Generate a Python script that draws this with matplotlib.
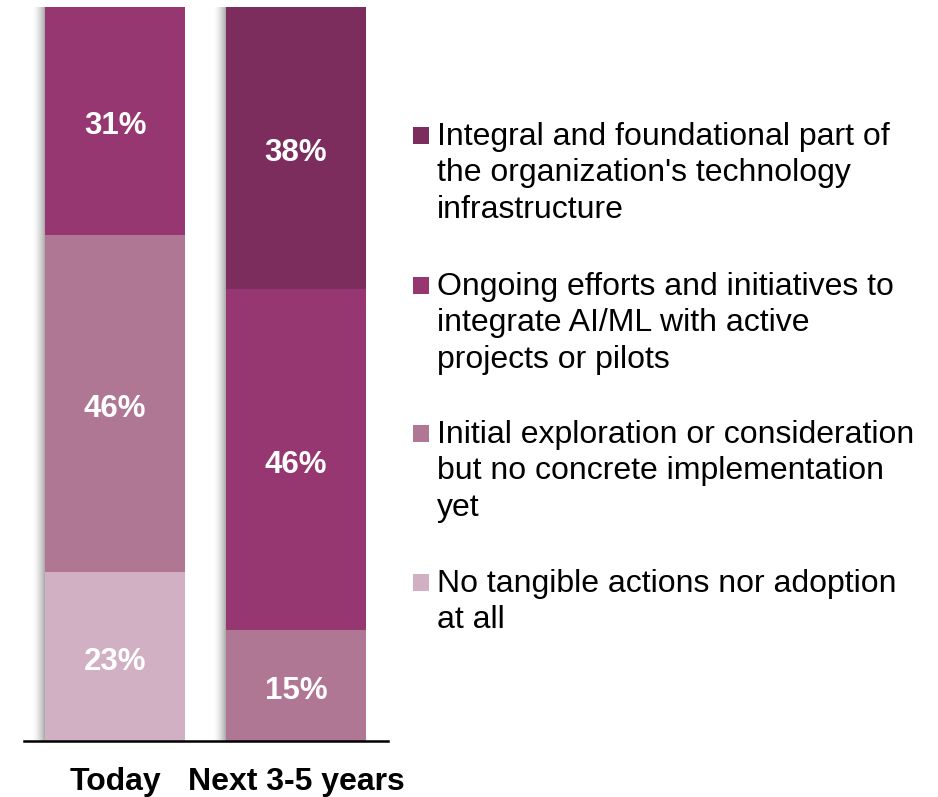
import numpy as np
import matplotlib.pyplot as plt
from matplotlib.patches import Rectangle

plt.rcParams['font.family'] = ['Liberation Sans', 'DejaVu Sans']

# ---- data ----
periods = ["Today", "Next 3-5 years"]
categories = [
    "No tangible actions nor adoption\nat all",
    "Initial exploration or consideration\nbut no concrete implementation\nyet",
    "Ongoing efforts and initiatives to\nintegrate AI/ML with active\nprojects or pilots",
    "Integral and foundational part of\nthe organization's technology\ninfrastructure",
]
# share per category (bottom -> top), one list per period
today = [23, 46, 31, 0]
next_years = [0, 15, 46, 38]
colors = ["#D1B0C3", "#B07795", "#963771", "#7C2D5E"]

values = np.array([today, next_years], dtype=float)
shares = values / values.sum(axis=1, keepdims=True) * 100  # 100% stacked

W, H = 938, 797
fig = plt.figure(figsize=(W / 100, H / 100), dpi=100)
ax = fig.add_axes([24 / W, 56 / H, 364 / W, 734 / H])

x = np.arange(len(periods))
width = 0.773

# soft drop shadow along the left edge of each column
for xi in x:
    left = xi - width / 2
    step = 0.0055
    for k in range(12):
        ax.add_patch(Rectangle((left - (k + 1) * step, 0), step, 100,
                               color="#777777", alpha=0.6 * (1 - k / 12) ** 1.6,
                               lw=0, zorder=1))

bottom = np.zeros(len(periods))
for ci in range(len(categories)):
    h = shares[:, ci]
    ax.bar(x, h, width, bottom=bottom, color=colors[ci], lw=0, zorder=2)
    for xi in x:
        if values[xi, ci] > 0:
            ax.annotate(f"{values[xi, ci]:.0f}%", (xi, bottom[xi] + h[xi] / 2),
                        xytext=(0, -4), textcoords="offset points",
                        ha="center", va="center", color="white",
                        fontsize=22.5, fontweight="bold", zorder=3)
    bottom += h

ax.set_xlim(-0.503, 1.508)
ax.set_ylim(0, 100)
for s in ["top", "right", "left"]:
    ax.spines[s].set_visible(False)
ax.spines["bottom"].set_linewidth(1.8)
ax.spines["bottom"].set_zorder(4)
ax.set_yticks([])
ax.set_xticks(x)
ax.set_xticklabels(periods, fontsize=23, fontweight="bold")
ax.tick_params(axis="x", length=0, pad=19)

# legend, top category first, marker aligned to first text line
first_baselines = [145, 295, 443, 592]   # px from top
line_gap = 36.5
for ci, base in zip(range(len(categories) - 1, -1, -1), first_baselines):
    for li, line in enumerate(categories[ci].split("\n")):
        y = 1 - (base + li * line_gap) / H
        fig.text(437 / W, y, line, ha="left", va="baseline", fontsize=23)
    fig.patches.append(Rectangle((413 / W, 1 - (base - 1) / H), 16 / W, 17 / H,
                                 transform=fig.transFigure,
                                 color=colors[ci], lw=0))

fig.savefig("out.png", dpi=100)
